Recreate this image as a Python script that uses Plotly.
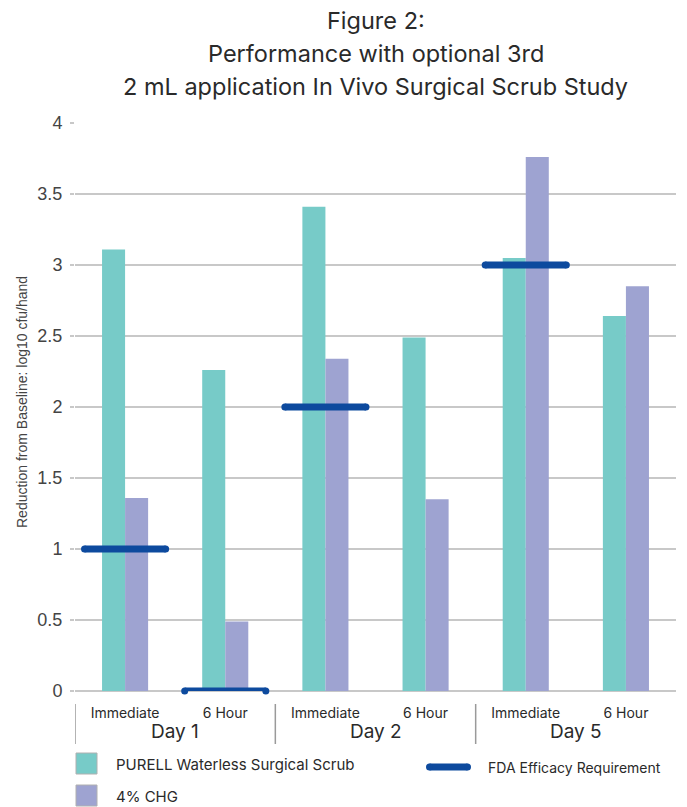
import plotly.graph_objects as go

# ---- data ----
days = ["Day 1", "Day 2", "Day 5"]
times = ["Immediate", "6 Hour", "Immediate", "6 Hour", "Immediate", "6 Hour"]
purell = [3.11, 2.26, 3.41, 2.49, 3.05, 2.64]
chg = [1.36, 0.49, 2.34, 1.35, 3.76, 2.85]
fda = [1, 0, 2, None, 3, None]
y_ticks = [0, 0.5, 1, 1.5, 2, 2.5, 3, 3.5, 4]
series_names = ["PURELL Waterless Surgical Scrub", "4% CHG", "FDA Efficacy Requirement"]
title_lines = ["Figure 2:", "Performance with optional 3rd",
               "2 mL application In Vivo Surgical Scrub Study"]
y_title = "Reduction from Baseline: log10 cfu/hand"

TEAL = "#77CBC8"
PURPLE = "#9EA3D1"
NAVY = "#0D4A9E"
GRID = "#C8C8C8"
TXT = "#2a2a2a"
FONT = "Inter, Lato, sans-serif"

W, H = 687, 807
L, R, T, B = 75, 11, 123, 116
PW, PH = W - L - R, H - T - B


def PX(px):
    return (px - L) / PW


def PY(py):
    return (H - B - py) / PH


xs = list(range(len(times)))

fig = go.Figure()
fig.add_trace(go.Bar(x=xs, y=purell, name=series_names[0], showlegend=False,
                     marker=dict(color=TEAL, line=dict(width=0))))
fig.add_trace(go.Bar(x=xs, y=chg, name=series_names[1], showlegend=False,
                     marker=dict(color=PURPLE, line=dict(width=0))))

half = 0.405
fx, fy, cx, cy = [], [], [], []
for i, v in enumerate(fda):
    if v is None:
        continue
    fx += [i - half, i + half, None]
    fy += [v, v, None]
    cx += [i - half, i + half]
    cy += [v, v]
fig.add_trace(go.Scatter(x=fx, y=fy, mode="lines", name=series_names[2], showlegend=False,
                         line=dict(color=NAVY, width=7), cliponaxis=False))
fig.add_trace(go.Scatter(x=cx, y=cy, mode="markers", showlegend=False, hoverinfo="skip",
                         marker=dict(color=NAVY, size=7, line=dict(width=0)), cliponaxis=False))

annotations = []
# title
for k, (line, ypx) in enumerate(zip(title_lines, [21, 53, 86])):
    annotations.append(dict(text=line, xref="paper", yref="paper", x=0.5, y=PY(ypx),
                            xanchor="center", yanchor="middle", showarrow=False,
                            font=dict(size=23.5, color=TXT, family=FONT)))
# y-axis title
annotations.append(dict(text=y_title, xref="paper", yref="paper", x=PX(22), y=PY(402),
                        xanchor="center", yanchor="middle", textangle=-90, showarrow=False,
                        font=dict(size=14, color="#444444", family="Liberation Sans, Arial, sans-serif")))
# day group labels
for g, d in enumerate(days):
    annotations.append(dict(text=d, xref="x", yref="paper", x=2 * g + 0.5, y=PY(731),
                            xanchor="center", yanchor="middle", showarrow=False,
                            font=dict(size=19, color=TXT, family=FONT)))

shapes = []
# group dividers
for g in range(len(days)):
    shapes.append(dict(type="line", xref="x", yref="paper", x0=2 * g - 0.5, x1=2 * g - 0.5,
                       y0=PY(704), y1=PY(744), line=dict(color="#9a9a9a", width=1.5)))

# manual legend
for name, col, ypx in [(series_names[0], TEAL, 764), (series_names[1], PURPLE, 796)]:
    shapes.append(dict(type="rect", xref="paper", yref="paper",
                       x0=PX(76), x1=PX(97), y0=PY(ypx - 11), y1=PY(ypx + 10),
                       fillcolor=col, line=dict(color="#b0b0b0", width=1)))
    annotations.append(dict(text=name, xref="paper", yref="paper", x=PX(114), y=PY(ypx),
                            xanchor="left", yanchor="middle", showarrow=False,
                            font=dict(size=15, color=TXT, family=FONT)))
shapes.append(dict(type="rect", xref="paper", yref="paper", x0=PX(429.5), x1=PX(467.5),
                   y0=PY(763.5), y1=PY(770.5), fillcolor=NAVY, line=dict(width=0)))
for cxp in [429.5, 467.5]:
    shapes.append(dict(type="circle", xref="paper", yref="paper", x0=PX(cxp - 3.5), x1=PX(cxp + 3.5),
                       y0=PY(763.5), y1=PY(770.5), fillcolor=NAVY, line=dict(width=0)))
annotations.append(dict(text=series_names[2], xref="paper", yref="paper", x=PX(486), y=PY(767),
                        xanchor="left", yanchor="middle", showarrow=False,
                        font=dict(size=14, color=TXT, family=FONT)))

fig.update_layout(
    width=W, height=H,
    margin=dict(l=L, r=R, t=T, b=B, autoexpand=False),
    paper_bgcolor="white", plot_bgcolor="white",
    barmode="group", bargap=0.54, bargroupgap=0,
    font=dict(family=FONT, color=TXT),
    showlegend=False,
    yaxis=dict(range=[0, 4], tickvals=y_ticks, ticktext=[("%g" % t) for t in y_ticks],
               automargin=False,
               showgrid=True, gridcolor=GRID, gridwidth=1.5,
               zeroline=True, zerolinecolor=GRID, zerolinewidth=1.5,
               ticks="outside", ticklen=4, tickcolor=GRID, tickwidth=1.5,
               ticklabelstandoff=4,
               tickfont=dict(size=18, color="#444444", family="Liberation Sans, Arial, sans-serif")),
    xaxis=dict(range=[-0.5, len(times) - 0.5], tickvals=xs, ticktext=times,
               automargin=False, showgrid=False, zeroline=False, showline=False, ticks="",
               ticklabelstandoff=12,
               tickfont=dict(size=14, color=TXT, family=FONT)),
    annotations=annotations,
    shapes=shapes,
)

fig.write_html("out.html", config={"displayModeBar": False},
               post_script="document.body.style.margin='0';")
